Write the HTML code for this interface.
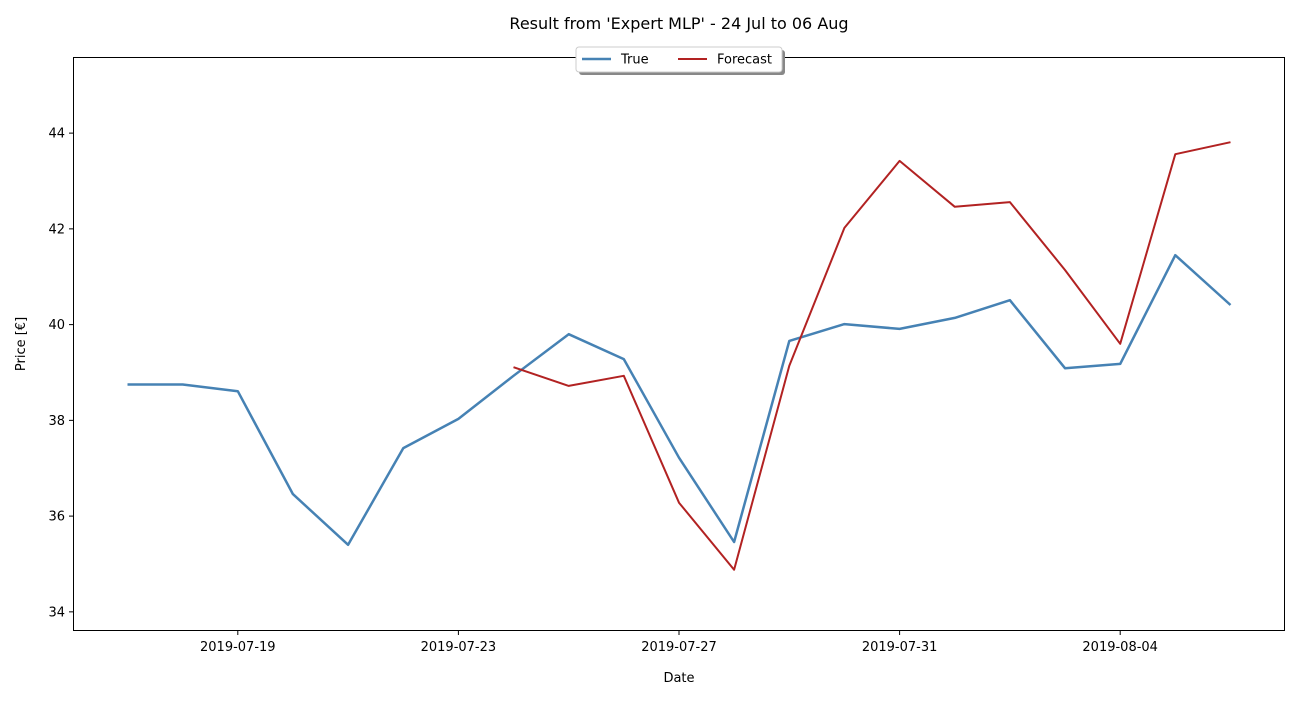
<!DOCTYPE html>
<html><head><meta charset="utf-8"><style>
body{margin:0;background:#fff;font-family:"Liberation Sans","DejaVu Sans",sans-serif;}
svg text{font-family:"DejaVu Sans","Liberation Sans",sans-serif;}
</style></head><body>
<svg id="chart" width="1300" height="700"></svg>
<script>
const trueDates=["2019-07-17","2019-07-18","2019-07-19","2019-07-20","2019-07-21","2019-07-22","2019-07-23","2019-07-24","2019-07-25","2019-07-26","2019-07-27","2019-07-28","2019-07-29","2019-07-30","2019-07-31","2019-08-01","2019-08-02","2019-08-03","2019-08-04","2019-08-05","2019-08-06"];
const trueValues=[38.75,38.75,38.61,36.46,35.40,37.42,38.03,38.93,39.80,39.28,37.22,35.46,39.66,40.01,39.91,40.14,40.51,39.09,39.18,41.45,40.41];
const forecastDates=["2019-07-24","2019-07-25","2019-07-26","2019-07-27","2019-07-28","2019-07-29","2019-07-30","2019-07-31","2019-08-01","2019-08-02","2019-08-03","2019-08-04","2019-08-05","2019-08-06"];
const forecastValues=[39.11,38.72,38.93,36.28,34.88,39.14,42.02,43.42,42.46,42.56,41.14,39.60,43.56,43.81];
const yTicks=[34,36,38,40,42,44];
const xTickLabels=["2019-07-19","2019-07-23","2019-07-27","2019-07-31","2019-08-04"];

const L=73,R=1285,T=57,B=631;
const yMin=33.60,yMax=45.59;
const d0=Date.parse("2019-07-17"), dayPx=55.15, x0=127.5;
function xs(d){return x0+(Date.parse(d)-d0)/86400000*dayPx;}
function ys(v){return B-(v-yMin)/(yMax-yMin)*(B-T);}
const svg=document.getElementById('chart');
const NS="http://www.w3.org/2000/svg";
function el(tag,attrs,text){const e=document.createElementNS(NS,tag);for(const k in attrs)e.setAttribute(k,attrs[k]);if(text!==undefined)e.textContent=text;svg.appendChild(e);return e;}

let t=el('text',{x:679,y:29,'text-anchor':'middle','font-size':16,fill:'#000'},"Result from 'Expert MLP' - 24 Jul to 06 Aug");



yTicks.forEach(v=>{
  const y=ys(v);
  let l=el('line',{x1:L-4,x2:L,y1:y,y2:y,stroke:'#000'});
  
  
  let tx=el('text',{x:L-8,y:y+4.5,'text-anchor':'end','font-size':13,fill:'#000'},String(v));
  
  
});
xTickLabels.forEach(d=>{
  const x=xs(d);
  let l=el('line',{x1:x,x2:x,y1:B,y2:B+4,stroke:'#000'});
  
  
  let tx=el('text',{x:x,y:B+20,'text-anchor':'middle','font-size':13,fill:'#000'},d);
  
  
});

function path(dates,vals,color,w,name){
  const d=dates.map((dt,i)=>(i?'L':'M')+xs(dt).toFixed(1)+','+ys(vals[i]).toFixed(1)).join(' ');
  let p=el('path',{d:d,fill:'none',stroke:color,'stroke-width':w,'stroke-linejoin':'round'});
  
  
}
path(trueDates,trueValues,'#4682b4',2.5,'true-line');
path(forecastDates,forecastValues,'#b22222',2,'forecast-line');

let fr=el('rect',{x:L+0.5,y:T+0.5,width:R-L-1,height:B-T-1,fill:'none',stroke:'#000','stroke-width':1});



let xl=el('text',{x:679,y:682,'text-anchor':'middle','font-size':13,fill:'#000'},'Date');


let yl=el('text',{x:25,y:344,'text-anchor':'middle','font-size':13,fill:'#000',transform:'rotate(-90 25 344)'},'Price [€]');



let sh=el('rect',{x:579,y:50,width:206,height:25,rx:3,fill:'#888'});


let lg=el('rect',{x:576,y:47,width:206,height:25,rx:3,fill:'#fff',stroke:'#ccc'});


let l1=el('line',{x1:582,x2:611,y1:59,y2:59,stroke:'#4682b4','stroke-width':2.5});


let t1=el('text',{x:621,y:63.5,'font-size':13,fill:'#000'},'True');


let l2=el('line',{x1:678,x2:707,y1:59,y2:59,stroke:'#b22222','stroke-width':2});


let t2=el('text',{x:717,y:63.5,'font-size':13,fill:'#000'},'Forecast');


</script>
</body></html>
